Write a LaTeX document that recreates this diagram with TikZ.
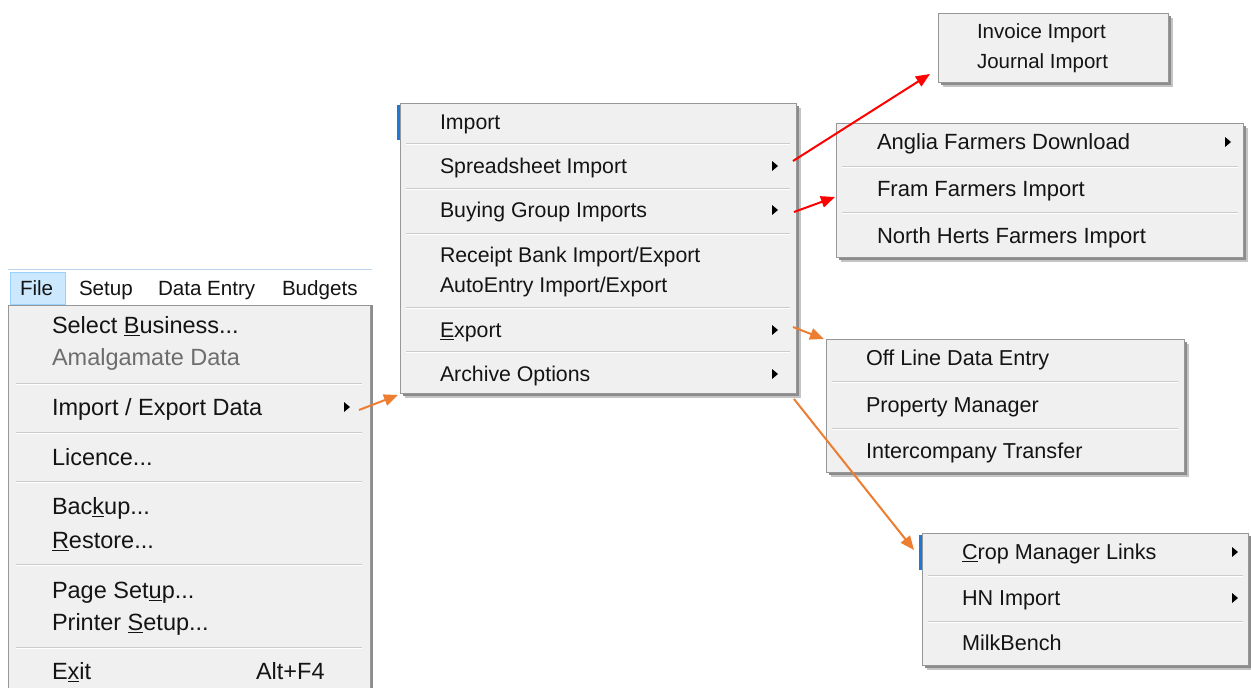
\documentclass[tikz,border=0pt]{standalone}
\usepackage{fontspec}
\setmainfont{Liberation Sans}
\usetikzlibrary{arrows.meta}
\definecolor{menubg}{HTML}{F0F0F0}
\definecolor{menuborder}{HTML}{979797}
\definecolor{shadowc}{HTML}{8C8C8C}
\definecolor{shadowl}{HTML}{C4C4C4}
\definecolor{sepc}{HTML}{CBCBCB}
\definecolor{selblue}{HTML}{CCE8FF}
\definecolor{selborder}{HTML}{99D1FF}
\definecolor{topline}{HTML}{BCD4EC}
\definecolor{orangec}{HTML}{ED7D31}
\definecolor{redc}{HTML}{FF0000}
\definecolor{greytext}{HTML}{6D6D6D}
\definecolor{textc}{HTML}{141414}
\definecolor{stripblue}{HTML}{1E78D7}
\newcommand{\mkey}[1]{\underline{#1}}
\tikzset{
  item/.style={anchor=west, inner sep=0pt, outer sep=0pt, text depth=0pt, text=textc},
  fsL/.style={font=\fontsize{23.5}{26}\selectfont, text height=16.8pt},
  fsC/.style={font=\fontsize{21.3}{24}\selectfont, text height=15.25pt},
  fsR/.style={font=\fontsize{22}{25}\selectfont, text height=15.75pt},
  fsT/.style={font=\fontsize{20.5}{23}\selectfont, text height=14.7pt},
  fsO/.style={font=\fontsize{21.6}{24}\selectfont, text height=15.5pt},
  fsB/.style={font=\fontsize{20.6}{23}\selectfont, text height=14.75pt},
  menubox/.style={draw=menuborder, fill=menubg, line width=1pt, inner sep=0pt, outer sep=0pt, anchor=north west},
  sepline/.style={draw=sepc, line width=1pt},
  sephi/.style={draw=white, line width=1pt},
  subtri/.style={fill=black},
  conn/.style={line width=2pt, -{Triangle[length=14pt,width=11.5pt]}},
}
\newcommand{\menushadow}[4]{%
  \fill[shadowl] (#1+5,#2+5) rectangle (#3+5,#4+5);
  \fill[shadowc] (#1+3,#2+3) rectangle (#3+3,#4+3);}
\newcommand{\msep}[3]{%
  \draw[sepline] (#1,#3) -- (#2,#3);
  \draw[sephi] (#1,#3+1) -- (#2,#3+1);}
\newcommand{\stri}[2]{\fill[subtri] (#1-3,#2-5) -- (#1+3,#2) -- (#1-3,#2+5) -- cycle;}
\begin{document}
\begin{tikzpicture}[x=1pt,y=-1pt]
\useasboundingbox (0,0) rectangle (1251,688);
\fill[white] (0,0) rectangle (1251,688);

% ---------------- left window: menubar + File menu
\fill[white] (8,269) rectangle (372,305);
\draw[topline, line width=1pt] (8,269) -- (372,269);
\node[draw=selborder, fill=selblue, line width=1pt, minimum width=55pt, minimum height=32pt, anchor=north west, inner sep=0pt] (filehl) at (10,272) {};
\node[item, fsB] (mbFile) at (20,288) {File};
\node[item, fsB] (mbSetup) at (79,288) {Setup};
\node[item, fsB] (mbData) at (158,288) {Data Entry};
\node[item, fsB] (mbBudgets) at (282,288) {Budgets};

\fill[shadowc] (370,305) rectangle (373,688);
\node[menubox, minimum width=362pt, minimum height=400pt] (menuL) at (8,305) {};
\node[item, fsL] (iSelect) at (52,325) {Select \mkey{B}usiness...};
\node[item, fsL, text=greytext] (iAmal) at (52,357) {Amalgamate Data};
\msep{16}{362}{383}
\node[item, fsL] (iImpExp) at (52,407) {Import / Export Data};
\stri{347}{407}
\coordinate (aImpExp) at (359,410);
\msep{16}{362}{432}
\node[item, fsL] (iLicence) at (52,457) {Licence...};
\msep{16}{362}{481}
\node[item, fsL] (iBackup) at (52,506) {Bac\mkey{k}up...};
\node[item, fsL] (iRestore) at (52,540) {\mkey{R}estore...};
\msep{16}{362}{564}
\node[item, fsL] (iPage) at (52,590) {Page Set\mkey{u}p...};
\node[item, fsL] (iPrinter) at (52,622) {Printer \mkey{S}etup...};
\msep{16}{362}{647}
\node[item, fsL] (iExit) at (52,671) {E\mkey{x}it};
\node[item, fsL] (iAltF4) at (256,671) {Alt+F4};

% ---------------- centre menu
\fill[stripblue] (397,105) rectangle (400,140);
\menushadow{400}{103}{796}{393}
\node[menubox, minimum width=396pt, minimum height=290pt] (menuC) at (400,103) {};
\node[item, fsC] (cImport) at (440,122) {Import};
\msep{406}{790}{143}
\node[item, fsC] (cSpread) at (440,166) {Spreadsheet Import};
\stri{775}{166}
\msep{406}{790}{188}
\node[item, fsC] (cBuying) at (440,210) {Buying Group Imports};
\stri{775}{210}
\msep{406}{790}{233}
\node[item, fsC] (cReceipt) at (440,255) {Receipt Bank Import/Export};
\node[item, fsC] (cAuto) at (440,285) {AutoEntry Import/Export};
\msep{406}{790}{307}
\node[item, fsC] (cExport) at (440,330) {\mkey{E}xport};
\stri{775}{330}
\msep{406}{790}{351}
\node[item, fsC] (cArchive) at (440,374) {Archive Options};
\stri{775}{374}
\coordinate (aSpread) at (793,161);
\coordinate (aBuying) at (794,212);
\coordinate (aExport) at (793,327);
\coordinate (aArchive) at (794,399);
\coordinate (inCentre) at (398,395);

% ---------------- top-right menu
\menushadow{938}{13}{1168}{82}
\node[menubox, minimum width=230pt, minimum height=69pt] (menuT) at (938,13) {};
\node[item, fsT] (tInvoice) at (977,31) {Invoice Import};
\node[item, fsT] (tJournal) at (977,61) {Journal Import};
\coordinate (inTop) at (930,74);

% ---------------- buying group menu
\menushadow{836}{123}{1243}{257}
\node[menubox, minimum width=407pt, minimum height=134pt] (menuA) at (836,123) {};
\node[item, fsR] (aAnglia) at (877,142) {Anglia Farmers Download};
\stri{1228}{142}
\msep{842}{1238}{166}
\node[item, fsR] (aFram) at (877,189) {Fram Farmers Import};
\msep{842}{1238}{212}
\node[item, fsR] (aNorth) at (877,236) {North Herts Farmers Import};
\coordinate (inBuying) at (835,197);

% ---------------- export menu
\menushadow{826}{339}{1184}{472}
\node[menubox, minimum width=358pt, minimum height=133pt] (menuO) at (826,339) {};
\node[item, fsO] (oOff) at (866,358) {Off Line Data Entry};
\msep{832}{1178}{381}
\node[item, fsO] (oProp) at (866,405) {Property Manager};
\msep{832}{1178}{428}
\node[item, fsO] (oInter) at (866,451) {Intercompany Transfer};
\coordinate (inExport) at (824,339);

% ---------------- crop manager menu
\fill[stripblue] (919,535) rectangle (922,570);
\menushadow{922}{533}{1248}{665}
\node[menubox, minimum width=326pt, minimum height=132pt] (menuK) at (922,533) {};
\node[item, fsO] (kCrop) at (962,552) {\mkey{C}rop Manager Links};
\stri{1235}{552}
\msep{928}{1243}{575}
\node[item, fsO] (kHN) at (962,598) {HN Import};
\stri{1235}{598}
\msep{928}{1243}{621}
\node[item, fsO] (kMilk) at (962,643) {MilkBench};
\coordinate (inArchive) at (914,550);

% ---------------- connectors
\draw[conn, orangec] (aImpExp) -- (inCentre);
\draw[conn, redc] (aSpread) -- (inTop);
\draw[conn, redc] (aBuying) -- (inBuying);
\draw[conn, orangec] (aExport) -- (inExport);
\draw[conn, orangec] (aArchive) -- (inArchive);
\end{tikzpicture}
\end{document}
